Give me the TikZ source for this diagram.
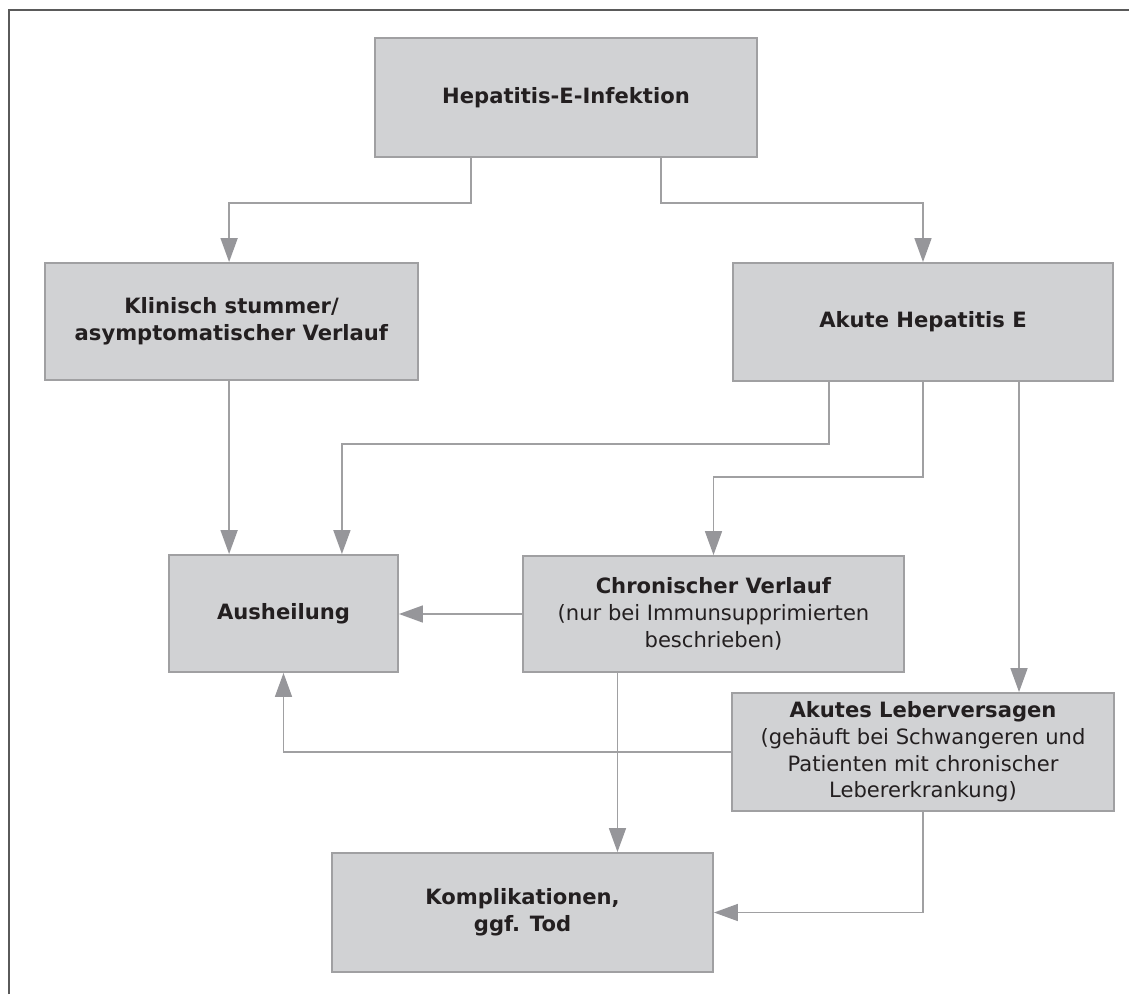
\documentclass[tikz,border=0pt]{standalone}
\usepackage{fontspec}
\setmainfont{DejaVu Sans}
\usetikzlibrary{arrows.meta}
\definecolor{boxfill}{RGB}{209,210,212}
\definecolor{boxline}{RGB}{160,160,162}
\definecolor{pfeilgrau}{RGB}{150,150,154}
\definecolor{schrift}{RGB}{35,31,32}
\definecolor{rahmengrau}{RGB}{90,90,90}

\begin{document}
\begin{tikzpicture}[x=0.025cm, y=-0.025cm,
		box/.style={draw=boxline, fill=boxfill, line width=1.3pt, rectangle, align=center, text=schrift, font=\fontsize{15pt}{19pt}\selectfont, inner sep=0pt},
		pfeil/.style={draw=boxline, line width=1.3pt, -{Triangle[length=17pt, width=12pt, color=pfeilgrau, fill=pfeilgrau]}}]
				\useasboundingbox (0,0) rectangle (1129,994);
				\draw[rahmengrau, line width=1.5pt] (9,994) -- (9,10) -- (1129,10);
				\node[box, minimum width=9.55cm, minimum height=2.975cm] (infekt)at(566, 97.5) {\textbf{Hepatitis-E-Infektion}};
				\node[box, minimum width=9.325cm, minimum height=2.925cm] (stumm)at(231.5, 321.5) {\textbf{Klinisch stummer/}\\\textbf{asymptomatischer Verlauf}};
				\node[box, minimum width=9.5cm, minimum height=2.95cm] (akut)at(923, 322) {\textbf{Akute Hepatitis E}};
				\node[box, minimum width=5.725cm, minimum height=2.925cm] (heil)at(283.5, 613.5) {\textbf{Ausheilung}};
				\node[box, minimum width=9.525cm, minimum height=2.9cm] (chron)at(713.5, 614) {\textbf{Chronischer Verlauf}\\(nur bei Immunsupprimierten\\beschrieben)};
				\node[box, minimum width=9.55cm, minimum height=2.95cm] (versag)at(923, 752) {\textbf{Akutes Leberversagen}\\(gehäuft bei Schwangeren und\\Patienten mit chronischer\\Lebererkrankung)};
				\node[box, minimum width=9.525cm, minimum height=2.975cm] (kompl)at(522.5, 912.5) {\textbf{Komplikationen,}\\\textbf{ggf. Tod}};
				\draw[pfeil] ([xshift=-2.375cm]infekt.south) -- ++(0,45) -| ([xshift=-0.06cm]stumm.north);
				\draw[pfeil] ([xshift=2.375cm]infekt.south) -- ++(0,45) -| (akut.north);
				\draw[pfeil] ([xshift=-0.06cm]stumm.south) -- ([xshift=-0.06cm]stumm.south |- heil.north);
				\draw[pfeil] ([xshift=-2.35cm]akut.south) -- ++(0,62) -| ([xshift=1.46cm]heil.north);
				\draw[pfeil] (akut.south) -- ++(0,95) -| (chron.north);
				\draw[pfeil] ([xshift=2.4cm]akut.south) -- ([xshift=2.4cm]akut.south |- versag.north);
				\draw[pfeil] (chron.west) -- (heil.east |- chron.west);
				\draw[pfeil] ([xshift=-2.4cm]chron.south) -- ([xshift=-2.4cm]chron.south |- kompl.north);
				\draw[pfeil] (versag.west) -| (heil.south);
				\draw[pfeil] (versag.south) |- (kompl.east);
			\end{tikzpicture}
\end{document}
